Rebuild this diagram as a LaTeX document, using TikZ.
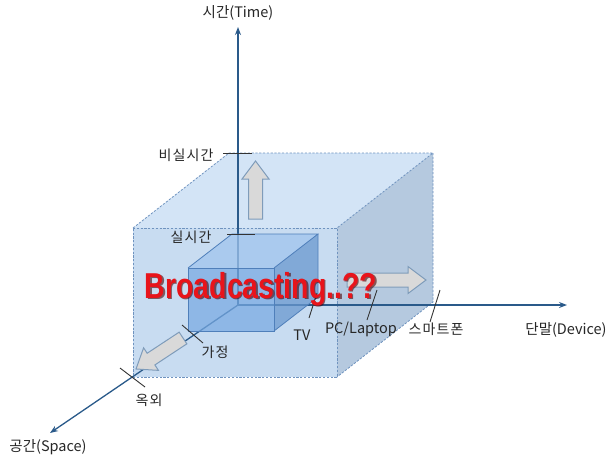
\documentclass[tikz,border=0pt]{standalone}
\usepackage{fontspec}
\usepackage{graphicx}
\newfontfamily\kr{Noto Sans CJK KR}
\newfontfamily\krw[LetterSpace=8]{Noto Sans CJK KR}
\newfontfamily\bcfont{Liberation Sans}
\usetikzlibrary{arrows.meta,calc}
\definecolor{axisblue}{HTML}{2A5A8A}
\definecolor{boxfront}{HTML}{C8DCF1}
\definecolor{boxtop}{HTML}{D3E4F6}
\definecolor{boxright}{HTML}{B5C9DF}
\definecolor{boxedge}{HTML}{6F93BF}
\definecolor{cubefront}{HTML}{78A9E2}
\definecolor{cubetop}{HTML}{A0C4EE}
\definecolor{cuberight}{HTML}{6A98CF}
\definecolor{cubeedge}{HTML}{4F7FBA}
\definecolor{arrfill}{HTML}{D9D9D9}
\definecolor{arredge}{HTML}{7F9CBA}
\definecolor{bcred}{HTML}{E8141B}
\definecolor{labelc}{HTML}{262626}
\newcommand\myblockarrow[2]{%
  \draw[blockarr]
    ($(#1)!7pt!90:(#2)$) --
    ($($(#2)!18pt!(#1)$)!7pt!-90:(#1)$) --
    ($($(#2)!18pt!(#1)$)!13.5pt!-90:(#1)$) --
    (#2) --
    ($($(#2)!18pt!(#1)$)!13.5pt!90:(#1)$) --
    ($($(#2)!18pt!(#1)$)!7pt!90:(#1)$) --
    ($(#1)!7pt!-90:(#2)$) -- cycle;}
\begin{document}
\begin{tikzpicture}[x=1pt,y=-1pt,
  lbl/.style={font=\kr\fontsize{14.5}{16}\selectfont, text=labelc, inner sep=0pt},
  klbl/.style={font=\krw\fontsize{14}{16}\selectfont, text=labelc, inner sep=0pt},
  boxline/.style={draw=boxedge, line width=0.8pt, dash pattern=on 2.2pt off 1.6pt},
  cubeline/.style={draw=cubeedge, line width=0.8pt},
  axisline/.style={draw=axisblue, line width=1.3pt, -{Stealth[length=8pt,width=6pt]}},
  tickline/.style={draw=black!80, line width=0.9pt},
  blockarr/.style={fill=arrfill, draw=arredge, line width=1pt, line join=miter}]
\useasboundingbox (0,0) rectangle (610,458);
% big box
\coordinate (F1) at (133,228); \coordinate (F2) at (337,228);
\coordinate (F3) at (337,377); \coordinate (F4) at (133,377);
\coordinate (B1) at (229,153); \coordinate (B2) at (433,153);
\coordinate (B3) at (433,302);
\fill[boxtop] (F1) -- (F2) -- (B2) -- (B1) -- cycle;
\fill[boxright] (F2) -- (B2) -- (B3) -- (F3) -- cycle;
\fill[boxfront] (F1) -- (F2) -- (F3) -- (F4) -- cycle;
\draw[boxline] (F1) -- (F2) -- (F3) -- (F4) -- cycle;
\draw[boxline] (F1) -- (B1) -- (B2) -- (F2);
\draw[boxline] (B2) -- (B3) -- (F3);
% axes
\coordinate (O) at (238,305);
\coordinate (Tend) at (238,27);
\coordinate (Dend) at (567,305);
\coordinate (Send) at (50,433);
\draw[axisline] (O) -- (Tend);
\draw[axisline] (O) -- (Dend);
\draw[axisline] (O) -- (Send);
% small cube
\coordinate (f1) at (188,268); \coordinate (f2) at (274,268);
\coordinate (f3) at (274,331); \coordinate (f4) at (188,331);
\coordinate (b1) at (232,234); \coordinate (b2) at (318,234);
\coordinate (b3) at (318,297);
\fill[cubetop, opacity=0.75] (f1) -- (f2) -- (b2) -- (b1) -- cycle;
\fill[cuberight, opacity=0.75] (f2) -- (b2) -- (b3) -- (f3) -- cycle;
\fill[cubefront, opacity=0.72] (f1) -- (f2) -- (f3) -- (f4) -- cycle;
\draw[cubeline] (f1) -- (f2) -- (f3) -- (f4) -- cycle;
\draw[cubeline] (f1) -- (b1) -- (b2) -- (f2);
\draw[cubeline] (b2) -- (b3) -- (f3);
% block arrows
\coordinate (ua1) at (255.5,219); \coordinate (ua2) at (255.5,161);
\coordinate (ra1) at (347,280); \coordinate (ra2) at (426,280);
\coordinate (da1) at (183,338); \coordinate (da2) at (136,369);
\myblockarrow{ua1}{ua2}
\myblockarrow{ra1}{ra2}
\myblockarrow{da1}{da2}
% ticks
\draw[tickline] (223,153) -- (252,153);
\draw[tickline] (227,234) -- (255,234);
\draw[tickline] (309,318) -- (317,293);
\draw[tickline] (367,320) -- (377,290);
\draw[tickline] (430,322) -- (440,290);
\draw[tickline] (182,325) -- (203,343);
\draw[tickline] (120,368) -- (145,387);
% labels
\node[lbl] (lt) at (238,13) {시간(Time)};
\node[klbl] (lnr) at (186,155) {비실시간};
\node[klbl] (lr) at (191,237) {실시간};
\node[lbl] (ltv) at (302,335) {TV};
\node[lbl] (lpc) at (361,329) {PC/Laptop};
\node[klbl] (lsp) at (436,329) {스마트폰};
\node[lbl] (ldev) at (566,330) {단말(Device)};
\node[klbl] (lhome) at (215,352) {가정};
\node[klbl] (lout) at (149,400) {옥외};
\node[lbl] (lspace) at (48,447) {공간(Space)};
% title text
\node[anchor=base, inner sep=0pt, text=black!70!red, opacity=0.6] (bcs) at (262.5,299.5)
  {\scalebox{0.79}[1]{\bcfont\bfseries\fontsize{36}{40}\selectfont Broadcasting..??}};
\node[anchor=base, inner sep=0pt, text=bcred] (bc) at (261,298)
  {\scalebox{0.79}[1]{\bcfont\bfseries\fontsize{36}{40}\selectfont Broadcasting..??}};
\end{tikzpicture}
\end{document}
